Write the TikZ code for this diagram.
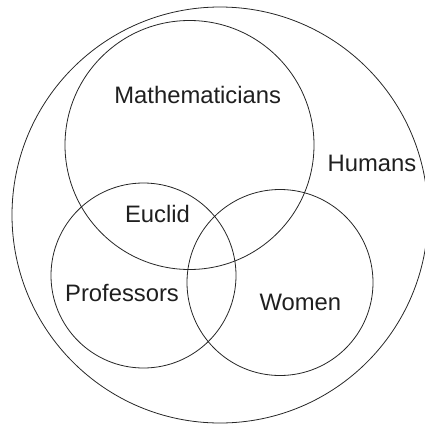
\documentclass[tikz,border=0pt]{standalone}
\usepackage{fontspec}
\setmainfont{Liberation Sans}
\begin{document}
\begin{tikzpicture}[x=1pt,y=-1pt,
  setline/.style={line width=0.8pt,draw=black!85},
  lbl/.style={anchor=base,inner sep=0pt,text=black!88,font=\fontsize{23.8}{28}\selectfont}]
\useasboundingbox (0,0) rectangle (425,426);
\begin{scope}
\clip (0,0) rectangle (425,426);
\coordinate (hum) at (220,215);
\coordinate (mat) at (189.5,145);
\coordinate (pro) at (143.5,275.5);
\coordinate (wom) at (280,282.5);
\draw[setline] (hum) circle (208);
\draw[setline] (mat) circle (124.5);
\draw[setline] (pro) circle (92.5);
\draw[setline] (wom) circle (93);
\end{scope}
\node[lbl] (tmat) at (197.7,103.3) {Mathematicians};
\node[lbl] (thum) at (372,171) {Humans};
\node[lbl] (teuc) at (157.5,222.7) {Euclid};
\node[lbl] (tpro) at (122,301.7) {Professors};
\node[lbl] (twom) at (300.3,310) {Women};
\end{tikzpicture}
\end{document}
